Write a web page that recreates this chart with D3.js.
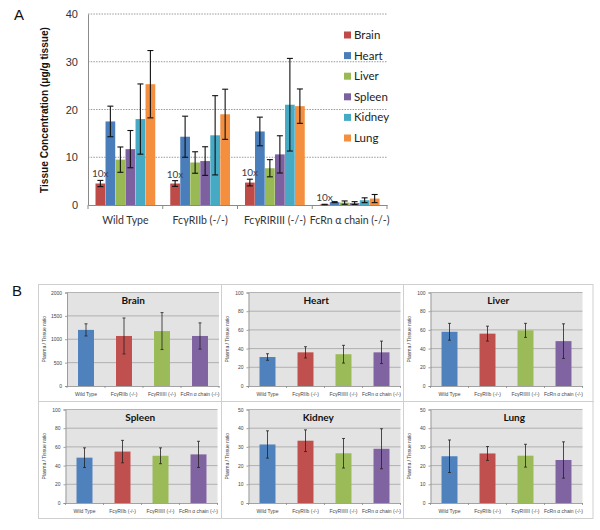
<!DOCTYPE html>
<html>
<head>
<meta charset="utf-8">
<script src="https://cdn.jsdelivr.net/npm/d3@7"></script>
<style>
  body { margin: 0; background: #ffffff; }
  svg { display: block; }
</style>
</head>
<body>
<script>
// ---------------- DATA ----------------
const groups = ["Wild Type", "FcγRIIb (-/-)", "FcγRIRIII (-/-)", "FcRn α chain (-/-)"];
const tissues = ["Brain", "Heart", "Liver", "Spleen", "Kidney", "Lung"];
const tickA = [0, 10, 20, 30, 40];

// Panel A: tissue concentration (µg/g tissue), per tissue across groups
const brainA = [4.5, 4.5, 4.7, 0.1];
const brainErrA = [0.65, 0.6, 0.7, 0.05];
const heartA = [17.5, 14.3, 15.4, 0.6];
const heartErrA = [3.2, 4.3, 3.0, 0.1];
const liverA = [9.5, 8.9, 7.7, 0.5];
const liverErrA = [2.65, 2.25, 1.8, 0.35];
const spleenA = [11.7, 9.2, 10.6, 0.4];
const spleenErrA = [3.9, 3.0, 3.9, 0.3];
const kidneyA = [18.0, 14.6, 21.0, 1.0];
const kidneyErrA = [7.35, 8.3, 9.7, 0.5];
const lungA = [25.3, 19.0, 20.7, 1.35];
const lungErrA = [7.05, 5.25, 3.6, 0.85];

// Panel B: plasma / tissue ratio
const groupsB = ["Wild Type", "FcγRIIb (-/-)", "FcγRIIIII (-/-)", "FcRn α chain (-/-)"];
const brainB = [1200, 1070, 1175, 1070];
const brainErrB = [130, 385, 395, 280];
const brainTicksB = [0, 500, 1000, 1500, 2000];
const heartB = [31, 36, 34, 36];
const heartErrB = [3.5, 6, 9.5, 12];
const heartTicksB = [0, 20, 40, 60, 80, 100];
const liverB = [58, 56, 59.5, 48];
const liverErrB = [9, 8, 7.5, 18.5];
const liverTicksB = [0, 20, 40, 60, 80, 100];
const spleenB = [48.5, 55, 50.5, 52];
const spleenErrB = [10.5, 12, 8.5, 14];
const spleenTicksB = [0, 20, 40, 60, 80, 100];
const kidneyB = [31.3, 33.3, 26.6, 29];
const kidneyErrB = [7.3, 5.8, 7.9, 10.7];
const kidneyTicksB = [0, 10, 20, 30, 40, 50];
const lungB = [25, 26.5, 25.3, 23];
const lungErrB = [8.7, 3.7, 6.1, 9.7];
const lungTicksB = [0, 10, 20, 30, 40, 50];

// ---------------- STYLE ----------------
const colorsA = ["#be4b48", "#4a7ebb", "#98b954", "#7d60a0", "#46aac5", "#f38f3f"];
const colorsB = ["#4f81bd", "#c0504d", "#9bbb59", "#8064a2"];

const svg = d3.select("body").append("svg").attr("width", 600).attr("height", 530);

// ---------------- PANEL A ----------------
const valsA = [brainA, heartA, liverA, spleenA, kidneyA, lungA];
const errsA = [brainErrA, heartErrA, liverErrA, spleenErrA, kidneyErrA, lungErrA];

const xA = d3.scaleBand().domain(groups).range([88, 387]);
const xA1 = d3.scaleBand().domain(tissues).range([0, xA.bandwidth()]).paddingInner(0.03).paddingOuter(0.75);
const yA = d3.scaleLinear().domain([0, 40]).range([205, 14]);

svg.append("text").attr("x", 14).attr("y", 20).attr("font-family", "Liberation Sans, Arial, sans-serif")
  .attr("font-size", 15).attr("fill", "#111").text("A");

// gridlines
svg.append("g").selectAll("line").data(tickA.filter(d => d > 0)).join("line")
  .attr("x1", 88).attr("x2", 387)
  .attr("y1", d => yA(d)).attr("y2", d => yA(d))
  .attr("stroke", "#9a9a9a").attr("stroke-width", 1).attr("stroke-dasharray", "1.5,1.2");

// y axis
const yAxisA = svg.append("g").attr("transform", "translate(88,0)")
  .call(d3.axisLeft(yA).tickValues(tickA).tickSize(0).tickPadding(10));
yAxisA.select(".domain").attr("stroke", "#8a8a8a");
yAxisA.selectAll("text").attr("font-family", "Liberation Sans, Arial, sans-serif").attr("font-size", 11).attr("fill", "#333");

// x axis
const xAxisA = svg.append("g").attr("transform", "translate(0,205)")
  .call(d3.axisBottom(xA).tickSize(0).tickPadding(12));
xAxisA.select(".domain").attr("stroke", "#8a8a8a");
xAxisA.selectAll("text").attr("font-family", "Lato, Liberation Sans, sans-serif").attr("font-size", 10.5).attr("fill", "#333");
// boundary tick marks
svg.append("g").selectAll("line").data(groups.map(g => xA(g)).concat([387])).join("line")
  .attr("x1", d => d).attr("x2", d => d).attr("y1", 205).attr("y2", 209)
  .attr("stroke", "#8a8a8a");

// y axis title
svg.append("text")
  .attr("transform", "translate(48,110) rotate(-90)")
  .attr("text-anchor", "middle")
  .attr("font-family", "Liberation Sans, Arial, sans-serif").attr("font-weight", "bold")
  .attr("font-size", 10.5).attr("fill", "#111")
  .attr("textLength", 166).attr("lengthAdjust", "spacingAndGlyphs")
  .text("Tissue Concentration (μg/g tissue)");

// bars
tissues.forEach((t, ti) => {
  const g = svg.append("g");
  g.selectAll("rect").data(groups).join("rect")
    .attr("x", d => xA(d) + xA1(t))
    .attr("width", xA1.bandwidth())
    .attr("y", (d, i) => yA(valsA[ti][i]))
    .attr("height", (d, i) => yA(0) - yA(valsA[ti][i]))
    .attr("fill", colorsA[ti]);
});
// error bars
tissues.forEach((t, ti) => {
  groups.forEach((gname, i) => {
    const cx = xA(gname) + xA1(t) + xA1.bandwidth() / 2;
    const v = valsA[ti][i], e = errsA[ti][i];
    const y1 = yA(v + e), y2 = yA(Math.max(0, v - e));
    const eg = svg.append("g").attr("stroke", "#111").attr("stroke-width", 1.1);
    eg.append("line").attr("x1", cx).attr("x2", cx).attr("y1", y1).attr("y2", y2);
    eg.append("line").attr("x1", cx - 3).attr("x2", cx + 3).attr("y1", y1).attr("y2", y1);
    eg.append("line").attr("x1", cx - 3).attr("x2", cx + 3).attr("y1", y2).attr("y2", y2);
  });
});
// 10x labels
groups.forEach((gname, i) => {
  svg.append("text")
    .attr("x", xA(gname) + xA1("Brain") - 3.5)
    .attr("y", yA(brainA[i] + brainErrA[i]) - 3)
    .attr("font-family", "Lato, Liberation Sans, sans-serif").attr("font-size", 10)
    .attr("fill", "#404040").text("10x");
});

// legend
const legA = svg.append("g");
tissues.forEach((t, i) => {
  const cy = 35 + i * 20.6;
  legA.append("rect").attr("x", 344).attr("y", cy - 3.5).attr("width", 7).attr("height", 7).attr("fill", colorsA[i]);
  legA.append("text").attr("x", 354).attr("y", cy + 4).attr("font-family", "Lato, Liberation Sans, sans-serif")
    .attr("font-size", 11.5).attr("fill", "#222").text(t);
});

// ---------------- PANEL B ----------------
svg.append("text").attr("x", 12).attr("y", 296).attr("font-family", "Liberation Sans, Arial, sans-serif")
  .attr("font-size", 15).attr("fill", "#111").text("B");

const charts = [
  { name: "Brain", vals: brainB, errs: brainErrB, ticks: brainTicksB, tdx: 0 },
  { name: "Heart", vals: heartB, errs: heartErrB, ticks: heartTicksB, tdx: 0 },
  { name: "Liver", vals: liverB, errs: liverErrB, ticks: liverTicksB, tdx: 0 },
  { name: "Spleen", vals: spleenB, errs: spleenErrB, ticks: spleenTicksB, tdx: 7 },
  { name: "Kidney", vals: kidneyB, errs: kidneyErrB, ticks: kidneyTicksB, tdx: 2 },
  { name: "Lung", vals: lungB, errs: lungErrB, ticks: lungTicksB, tdx: 16 }
];
const boxXs = [38.5, 221.5, 403.5];
const boxYs = [284.5, 401.5];
const boxW = 189.5, boxH = 117;

charts.forEach((c, i) => {
  const bx = boxXs[i % 3], by = boxYs[Math.floor(i / 3)];
  const g = svg.append("g");
  g.append("rect").attr("x", bx).attr("y", by).attr("width", boxW).attr("height", boxH)
    .attr("fill", "#ffffff").attr("stroke", "#cfcfcf").attr("stroke-width", 1);
  const pl = bx + (c.ticks[c.ticks.length - 1] >= 1000 ? 28.5 : 27);
  const pw = 152;
  const pt = by + 8, pb = by + 101.5;
  const x = d3.scaleBand().domain(groupsB).range([pl, pl + pw]).paddingInner(0.58).paddingOuter(0.29);
  const y = d3.scaleLinear().domain([0, c.ticks[c.ticks.length - 1]]).range([pb, pt]);

  g.append("rect").attr("x", pl).attr("y", pt).attr("width", pw).attr("height", pb - pt).attr("fill", "#e3e3e3");
  g.append("g").selectAll("line").data(c.ticks.filter(d => d > 0)).join("line")
    .attr("x1", pl).attr("x2", pl + pw).attr("y1", d => y(d)).attr("y2", d => y(d))
    .attr("stroke", "#a3a3a3").attr("stroke-width", 0.8);

  const ya = g.append("g").attr("transform", `translate(${pl},0)`)
    .call(d3.axisLeft(y).tickValues(c.ticks).tickFormat(d3.format("d")).tickSize(2).tickPadding(3));
  ya.select(".domain").attr("stroke", "#8c8c8c").attr("stroke-width", 0.8);
  ya.selectAll(".tick line").attr("stroke", "#8c8c8c").attr("stroke-width", 0.8);
  ya.selectAll("text").attr("font-family", "Liberation Sans, Arial, sans-serif").attr("font-size", 5).attr("fill", "#444");

  const xa = g.append("g").attr("transform", `translate(0,${pb})`)
    .call(d3.axisBottom(x).tickSize(0).tickPadding(6));
  xa.select(".domain").attr("stroke", "#8c8c8c").attr("stroke-width", 0.8);
  xa.selectAll("text").attr("font-family", "Liberation Sans, Arial, sans-serif").attr("font-size", 5).attr("fill", "#444");
  const step = x.step();
  g.append("g").selectAll("line").data(d3.range(5)).join("line")
    .attr("x1", k => pl + k * step).attr("x2", k => pl + k * step).attr("y1", pb).attr("y2", pb + 2)
    .attr("stroke", "#8c8c8c").attr("stroke-width", 0.8);

  g.append("g").selectAll("rect").data(groupsB).join("rect")
    .attr("x", d => x(d)).attr("width", x.bandwidth())
    .attr("y", (d, k) => y(c.vals[k])).attr("height", (d, k) => pb - y(c.vals[k]))
    .attr("fill", (d, k) => colorsB[k]);

  groupsB.forEach((d, k) => {
    const cx = x(d) + x.bandwidth() / 2;
    const y1 = y(c.vals[k] + c.errs[k]), y2 = y(c.vals[k] - c.errs[k]);
    const eg = g.append("g").attr("stroke", "#222").attr("stroke-width", 0.8);
    eg.append("line").attr("x1", cx).attr("x2", cx).attr("y1", y1).attr("y2", y2);
    eg.append("line").attr("x1", cx - 1.5).attr("x2", cx + 1.5).attr("y1", y1).attr("y2", y1);
    eg.append("line").attr("x1", cx - 1.5).attr("x2", cx + 1.5).attr("y1", y2).attr("y2", y2);
  });

  g.append("text").attr("transform", `translate(${bx + 7.5},${(pt + pb) / 2}) rotate(-90)`)
    .attr("text-anchor", "middle").attr("font-family", "Liberation Sans, Arial, sans-serif")
    .attr("font-size", 5).attr("fill", "#444").text("Plasma / Tissue ratio");

  g.append("text").attr("x", bx + boxW / 2 + c.tdx).attr("y", by + 19)
    .attr("text-anchor", "middle").attr("font-family", "Lato, Liberation Sans, sans-serif")
    .attr("font-weight", "bold").attr("font-size", 10).attr("fill", "#111").text(c.name);
});
</script>
</body>
</html>
